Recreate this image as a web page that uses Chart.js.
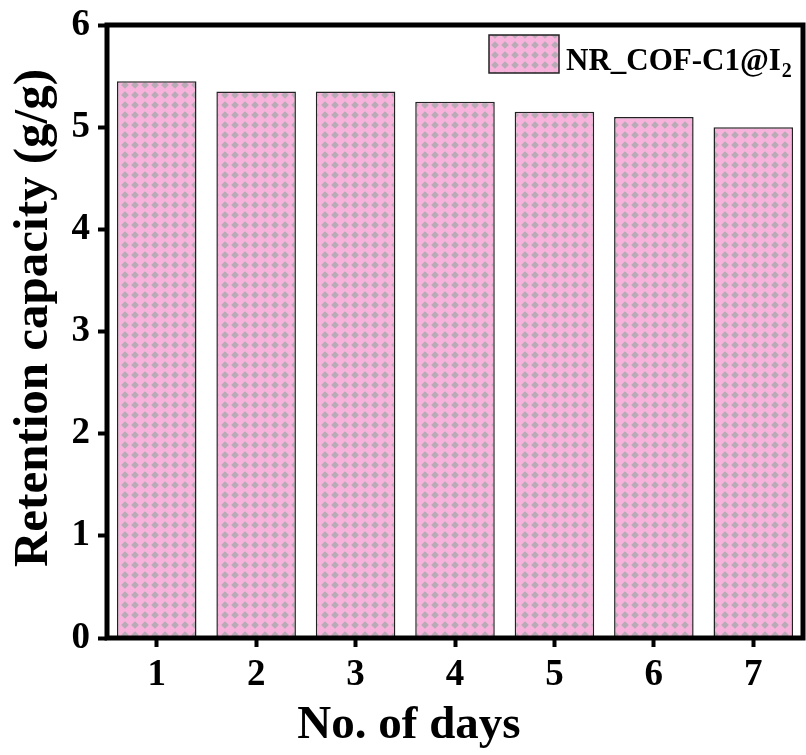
<!DOCTYPE html>
<html>
<head>
<meta charset="utf-8">
<script src="https://cdn.jsdelivr.net/npm/chart.js@4"></script>
<style>
  html, body { margin: 0; padding: 0; background: #fff; }
  #wrap { width: 806px; height: 755px; }
</style>
</head>
<body>
<div id="wrap"><canvas id="chart" width="806" height="755"></canvas></div>
<script>
// data
const days = ['1', '2', '3', '4', '5', '6', '7'];
const retention = [5.45, 5.35, 5.35, 5.25, 5.15, 5.10, 5.00];
const seriesName = 'NR_COF-C1@I';
const seriesSub = '2';
const yTicks = [0, 1, 2, 3, 4, 5, 6];

const SERIF = '"Liberation Serif", "DejaVu Serif", serif';

// pink with grey diamonds
function makePattern() {
  const c = document.createElement('canvas');
  c.width = 10; c.height = 10;
  const g = c.getContext('2d');
  g.fillStyle = '#f8b3dd';
  g.fillRect(0, 0, 10, 10);
  g.fillStyle = '#b8abb5';
  g.beginPath();
  g.moveTo(5, 1.2); g.lineTo(8.8, 5); g.lineTo(5, 8.8); g.lineTo(1.2, 5);
  g.closePath();
  g.fill();
  return g.createPattern(c, 'repeat');
}

const ctx = document.getElementById('chart').getContext('2d');
const pattern = makePattern();

// frame, axis titles and legend
const decor = {
  id: 'decor',
  afterDraw(chart) {
    const { ctx, chartArea: a } = chart;
    ctx.save();
    ctx.strokeStyle = '#000';
    ctx.lineWidth = 5;
    ctx.strokeRect(a.left, a.top, a.right - a.left, a.bottom - a.top);

    ctx.fillStyle = '#000';
    ctx.font = 'bold 47px ' + SERIF;
    ctx.textAlign = 'center';
    ctx.textBaseline = 'alphabetic';
    ctx.fillText('No. of days', 409, 738);

    ctx.save();
    ctx.translate(47, 318);
    ctx.rotate(-Math.PI / 2);
    ctx.font = 'bold 49px ' + SERIF;
    ctx.fillText('Retention capacity (g/g)', 0, 0);
    ctx.restore();

    // legend
    ctx.fillStyle = pattern;
    ctx.fillRect(489, 35, 70, 38);
    ctx.lineWidth = 1.5;
    ctx.strokeStyle = '#222';
    ctx.strokeRect(489, 35, 70, 38);
    ctx.fillStyle = '#000';
    ctx.textAlign = 'left';
    ctx.font = 'bold 31px ' + SERIF;
    ctx.fillText(seriesName, 566, 70);
    const w = ctx.measureText(seriesName).width;
    ctx.font = 'bold 20px ' + SERIF;
    ctx.fillText(seriesSub, 567 + w, 77);
    ctx.restore();
  }
};

new Chart(ctx, {
  type: 'bar',
  data: {
    labels: days,
    datasets: [{
      label: seriesName + seriesSub,
      data: retention,
      backgroundColor: pattern,
      borderColor: '#222',
      borderWidth: 1.5,
      barPercentage: 0.8,
      categoryPercentage: 1
    }]
  },
  options: {
    responsive: false,
    animation: false,
    layout: { padding: { top: 25, right: 3, left: 0, bottom: 0 } },
    plugins: { legend: { display: false }, tooltip: { enabled: false } },
    scales: {
      x: {
        grid: { offset: false, drawOnChartArea: false, tickLength: 9, tickWidth: 4, color: '#000' },
        border: { display: false },
        ticks: { color: '#000', padding: 6, font: { family: SERIF, size: 37, weight: 'bold' } },
        afterFit: s => { s.height = 117; s.paddingLeft = 0; s.paddingRight = 0; }
      },
      y: {
        min: 0,
        max: 6,
        afterBuildTicks: s => { s.ticks = yTicks.map(v => ({ value: v })); },
        grid: { drawOnChartArea: false, tickLength: 9, tickWidth: 4, color: '#000' },
        border: { display: false },
        ticks: { color: '#000', padding: 8, font: { family: SERIF, size: 37, weight: 'bold' } },
        afterFit: s => { s.width = 107; s.paddingTop = 0; s.paddingBottom = 0; }
      }
    }
  },
  plugins: [decor]
});
</script>
</body>
</html>
